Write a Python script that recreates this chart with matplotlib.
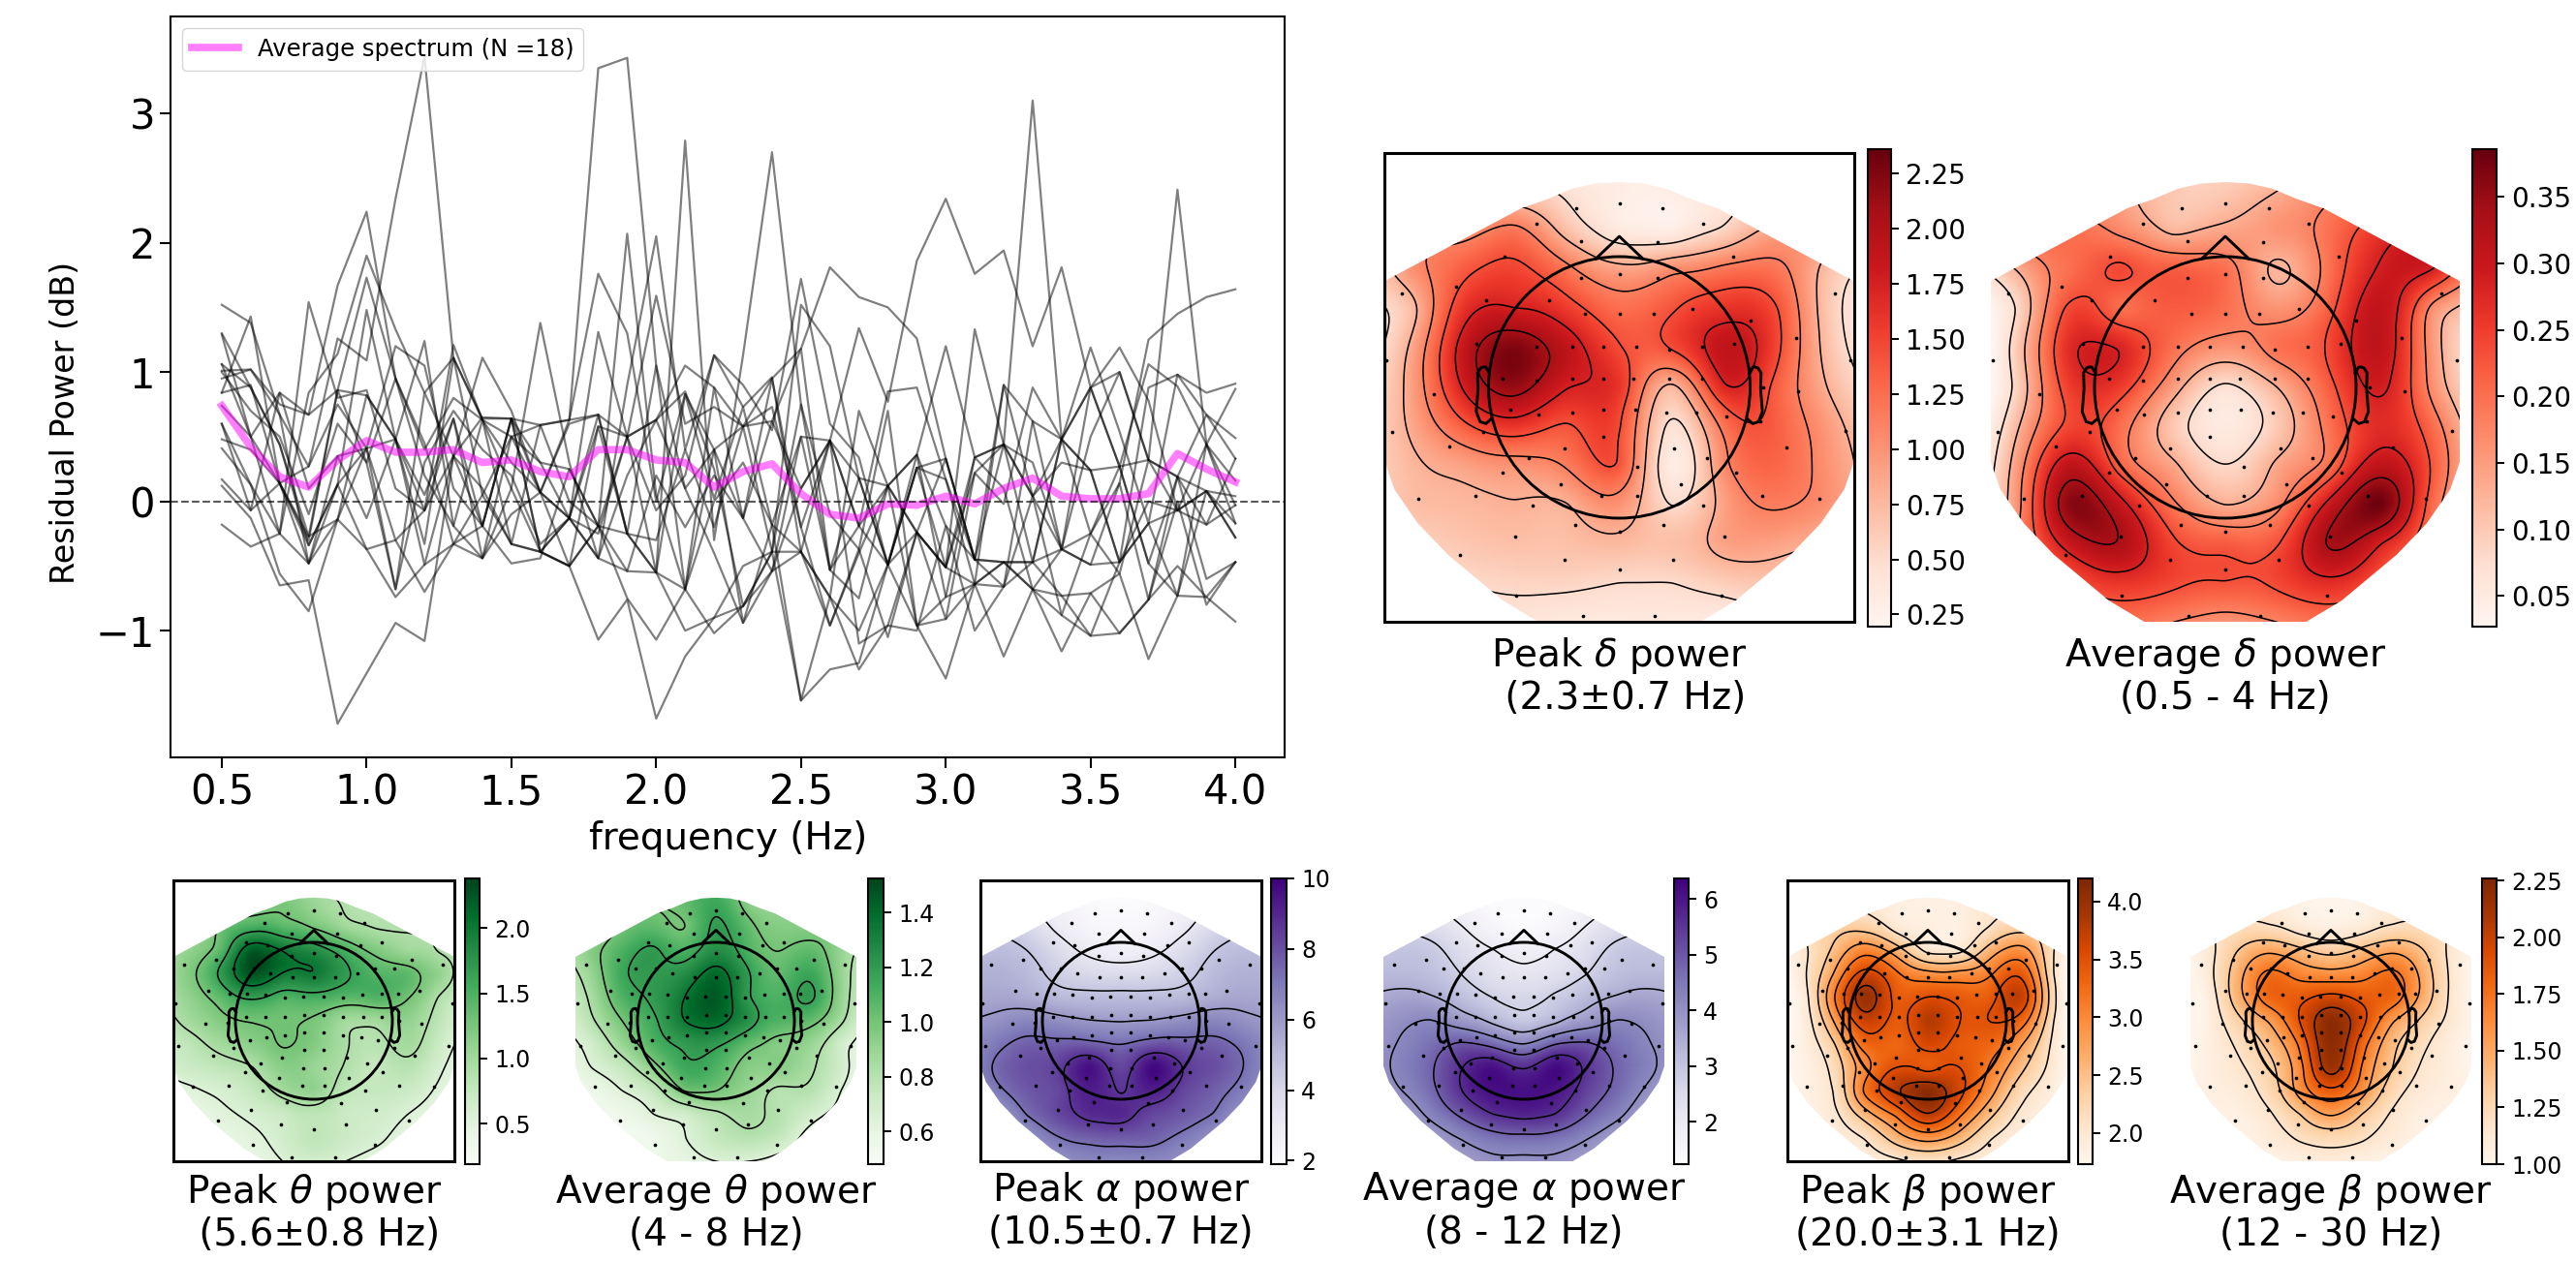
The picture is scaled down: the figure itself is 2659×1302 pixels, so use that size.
import numpy as np
import matplotlib
matplotlib.use("Agg")
import matplotlib.pyplot as plt
from matplotlib.patches import Polygon, Circle

W, H = 2659, 1302

# ---------- spectrum data ----------
freqs = np.round(np.arange(0.5, 4.01, 0.1), 1)

average_spectrum = [0.74, 0.42, 0.19, 0.11, 0.32, 0.47, 0.38, 0.38, 0.40, 0.30, 0.32, 0.23,
                    0.19, 0.40, 0.40, 0.32, 0.30, 0.11, 0.23, 0.29, 0.06, -0.10, -0.13, -0.02,
                    -0.03, 0.04, -0.02, 0.10, 0.18, 0.04, 0.02, 0.02, 0.06, 0.37, 0.25, 0.15]

subjects = [
    [1.52, 1.38, 0.67, 0.27, 1.26, 1.09, 2.34, 3.44, 1.11, 0.63, 0.10, -0.39, -0.13, 0.58, 0.50, -0.55, 0.83, 0.02, 0.73, -0.18, 0.50, -0.53, 0.18, 0.12, -0.24, -0.51, 0.34, 0.44, -0.47, 0.48, 0.24, -0.47, -0.17, -0.07, 0.44, 0.16],
    [1.30, 0.88, 0.44, -0.27, 0.86, 0.82, 0.48, -0.07, 1.21, 0.63, 0.50, 0.07, 0.63, 3.35, 3.43, 1.05, -0.68, 0.88, -0.13, -0.54, -0.39, 0.47, -0.19, -0.49, 0.26, 0.33, -0.45, 0.90, 0.04, -0.37, 0.88, 0.27, -0.48, -0.73, 0.08, -0.28],
    [0.84, 1.43, 0.14, -0.34, 0.13, 0.41, -0.68, 0.84, 0.35, -0.19, 0.64, -0.39, -0.13, 0.67, -0.25, -0.55, 2.79, -0.30, 1.13, 2.70, 0.75, -0.53, -0.75, 0.12, 0.36, -0.19, -0.45, 0.44, 3.10, 0.48, -0.25, 0.27, 0.32, 2.41, 0.44, -0.17],
    [0.12, -0.13, -0.65, -0.61, -1.72, -1.33, -0.94, -1.08, 0.35, 0.10, -0.33, -0.39, -0.50, -1.07, -0.76, -1.68, -1.20, -0.90, -0.50, -0.39, -1.54, -1.30, -1.25, -0.49, -0.96, -1.37, -0.64, -0.47, -0.68, -1.16, -0.71, -0.56, -1.22, -0.73, -0.74, -0.93],
    [-0.18, -0.35, -0.25, -0.48, 0.13, -0.37, -0.74, -0.49, -0.33, -0.44, 0.50, 0.59, 0.63, 0.67, 0.50, 0.63, 1.05, 0.88, 0.58, 0.95, 1.18, 1.81, 1.58, 1.50, 1.26, 0.33, -0.45, -0.47, -0.47, -0.37, -0.25, 0.14, 1.25, 1.45, 1.58, 1.64],
    [1.06, 0.50, 0.14, 0.27, 0.75, 0.41, 0.48, 0.05, 0.64, -0.19, -0.48, -0.44, 0.25, -0.19, 0.50, 1.59, 0.60, 0.73, 0.58, 0.62, 0.10, 0.47, 1.34, 0.77, 1.86, 2.34, 1.76, 1.94, 1.20, 1.81, 0.88, 1.19, 0.78, -0.07, 0.08, 0.04],
    [1.01, 1.02, 0.75, 0.67, 1.67, 2.24, 0.95, 0.45, -0.33, -0.19, 0.64, 0.07, -0.13, 1.31, 0.50, -0.07, 0.20, 1.13, 0.90, 0.55, 1.72, 0.60, 0.34, -0.49, 0.36, -0.74, -0.64, 0.90, 0.62, -0.37, 0.50, 1.00, 0.32, 0.19, -0.60, -0.47],
    [0.74, 0.50, -0.25, 0.84, 1.14, 1.90, 1.33, 0.84, 1.11, 0.05, -0.33, -0.39, -0.50, -0.19, 2.07, 0.05, -0.68, -1.02, -0.81, -0.39, 1.52, 1.20, 0.18, -0.49, -0.24, -0.91, 0.22, -0.02, 0.88, 0.48, 1.19, 0.54, -0.17, 0.98, 0.84, 0.91],
    [0.41, 0.13, -0.25, 1.54, 0.80, 0.86, 0.10, -0.07, 0.64, -0.44, 0.10, 1.38, 0.30, -0.44, 0.90, 2.05, 0.40, 1.13, 0.73, 0.96, -0.39, -0.74, 0.70, 0.12, -0.24, -0.51, 1.33, 0.44, 0.04, 0.30, 0.24, -0.47, 0.88, 0.98, 0.67, 0.49],
    [0.17, -0.07, 0.84, 0.67, 0.86, 1.73, 0.95, 0.20, -0.19, 0.63, -0.33, 0.59, 0.63, 1.76, 1.30, 0.00, 0.83, 0.40, -0.13, 0.62, 1.18, -0.53, -0.19, 0.85, 0.88, 0.17, -0.64, -0.66, 0.62, 0.48, 0.88, 0.27, 1.06, 0.89, 0.44, -0.03],
    [1.06, 0.88, 0.44, -0.34, 0.13, 1.48, 0.48, -0.33, 1.11, 0.64, 0.64, -0.39, -0.50, 0.58, -0.25, 1.05, 0.10, 0.40, -0.94, -0.18, -0.39, -0.96, -0.37, 0.70, -0.96, -0.91, -0.64, -0.47, -0.68, -0.73, -1.04, -1.02, -0.76, 0.19, 0.08, -0.28],
    [0.48, 0.40, 0.14, -0.48, 0.35, 0.41, 1.20, 1.05, 0.10, -0.19, 0.64, 0.59, 0.00, -0.19, -0.54, -0.55, -1.00, -0.90, -0.81, -0.54, 0.50, 0.47, 0.18, -0.49, 0.26, 0.17, -0.45, -0.47, -0.47, 0.48, 0.24, 0.27, -0.48, 0.19, -0.18, 0.33],
    [1.00, 0.70, 0.50, -0.10, 0.60, 0.30, 0.95, 0.40, 0.80, 0.63, 0.30, 0.07, -0.50, -0.19, -0.75, -1.07, -0.68, 0.00, 0.30, -0.18, -1.54, -0.74, -1.30, -0.96, -0.24, -0.51, -0.64, -1.20, -0.68, -0.88, -1.04, -0.47, 0.00, -0.07, 0.08, -0.17],
    [0.60, 0.13, -0.56, -0.85, -0.14, 0.82, 0.48, -0.49, 0.35, 1.11, 0.70, 0.07, 0.60, 0.67, -0.25, -0.30, 0.40, -0.20, 0.58, 0.73, -0.20, -0.96, -0.40, 0.12, -0.96, -0.74, 0.34, 0.10, -0.68, -0.37, -0.49, 0.14, -0.76, 0.00, -0.80, -0.47],
    [0.95, 1.02, 0.67, -0.48, -0.14, 0.41, -0.30, -0.07, 0.35, 0.65, 0.64, 0.30, -0.13, -0.44, 0.20, 0.63, 0.85, 0.25, -0.81, -0.39, 0.75, -0.10, -0.37, -1.05, -0.24, 0.33, -0.45, -0.66, 0.04, -0.88, -0.25, -0.56, 0.32, -0.07, -0.18, -0.03],
    [1.29, 0.50, 0.84, 0.10, 0.35, -0.13, 0.48, 1.24, -0.19, -0.44, -0.10, 0.07, -0.13, -0.25, 0.50, 0.63, 0.10, -0.40, -0.94, -0.54, 0.10, 0.47, -0.19, 0.12, 0.36, 1.20, 0.34, 0.44, 0.30, -0.37, -0.49, -0.47, -0.17, -0.73, 0.44, 0.87],
    [0.60, -0.07, 0.14, -0.30, 0.86, 0.30, -0.68, 0.30, 0.70, 0.40, 0.20, -0.33, -0.13, -0.44, -0.54, 0.20, -0.20, 0.20, -0.13, 0.95, -0.20, 0.47, -1.10, -0.96, -1.00, -0.19, -1.00, -0.66, -0.47, -0.73, -0.71, -1.02, -0.76, -0.50, -0.74, -0.47],
    [0.84, 0.90, 0.14, -0.27, -0.14, -0.37, -0.30, -0.70, -0.33, 0.05, 0.50, 0.30, 0.25, -0.19, -0.25, -0.55, -0.68, 0.40, 0.58, -0.39, -0.39, -0.74, -1.00, -0.49, 0.26, -0.51, 0.22, 0.44, 0.04, 0.48, 0.88, 1.00, 0.32, 0.19, 0.67, 0.33],
]

# ---------- topomap data ----------
# control values; rows run from front (y=1.5) to back (y=-1.8)
grid_x = [-1.6, -1.2, -0.8, -0.4, 0.0, 0.4, 0.8, 1.2, 1.6]
grid_y = [1.5, 1.2, 0.9, 0.6, 0.3, 0.0, -0.3, -0.6, -0.9, -1.2, -1.5, -1.8]

delta_peak = [
    [0.60, 0.60, 0.60, 0.45, 0.30, 0.30, 0.40, 0.50, 0.50],
    [1.00, 1.00, 1.20, 0.70, 0.35, 0.30, 0.55, 0.90, 0.90],
    [1.00, 1.35, 1.50, 1.20, 0.90, 1.05, 1.20, 1.20, 0.70],
    [0.70, 1.60, 1.75, 1.55, 1.25, 1.40, 1.60, 1.45, 0.65],
    [0.85, 1.85, 2.25, 1.90, 1.45, 1.45, 1.90, 1.50, 0.70],
    [0.90, 1.75, 2.15, 1.75, 1.60, 0.75, 1.70, 1.35, 0.80],
    [0.85, 1.35, 1.60, 1.40, 1.45, 0.45, 1.20, 1.35, 0.95],
    [0.75, 0.90, 1.00, 1.15, 1.40, 0.30, 1.05, 1.30, 1.00],
    [0.70, 0.75, 0.80, 0.80, 1.00, 0.50, 0.90, 1.15, 1.00],
    [0.55, 0.65, 0.70, 0.70, 0.75, 0.70, 0.90, 0.90, 0.75],
    [0.40, 0.50, 0.55, 0.55, 0.50, 0.50, 0.60, 0.65, 0.50],
    [0.30, 0.35, 0.40, 0.35, 0.35, 0.35, 0.35, 0.40, 0.35],
]
delta_avg = [
    [0.15, 0.16, 0.14, 0.10, 0.10, 0.13, 0.17, 0.20, 0.20],
    [0.20, 0.20, 0.17, 0.12, 0.14, 0.16, 0.20, 0.26, 0.28],
    [0.13, 0.20, 0.24, 0.22, 0.20, 0.12, 0.20, 0.29, 0.28],
    [0.08, 0.24, 0.20, 0.22, 0.20, 0.16, 0.22, 0.31, 0.16],
    [0.10, 0.27, 0.28, 0.20, 0.16, 0.20, 0.24, 0.31, 0.15],
    [0.09, 0.25, 0.25, 0.15, 0.07, 0.13, 0.22, 0.29, 0.16],
    [0.12, 0.24, 0.20, 0.10, 0.05, 0.10, 0.20, 0.27, 0.20],
    [0.15, 0.31, 0.21, 0.14, 0.08, 0.14, 0.20, 0.31, 0.22],
    [0.16, 0.36, 0.30, 0.19, 0.13, 0.17, 0.30, 0.38, 0.20],
    [0.17, 0.30, 0.33, 0.24, 0.22, 0.23, 0.34, 0.28, 0.18],
    [0.15, 0.22, 0.26, 0.24, 0.23, 0.24, 0.27, 0.22, 0.15],
    [0.12, 0.18, 0.20, 0.18, 0.16, 0.18, 0.20, 0.18, 0.12],
]
theta_peak = [
    [0.90, 1.00, 1.10, 1.25, 1.05, 0.90, 0.80, 0.70, 0.60],
    [1.00, 1.30, 1.50, 1.40, 1.25, 1.00, 0.90, 0.90, 0.90],
    [1.10, 1.40, 2.20, 2.00, 1.80, 1.50, 1.20, 1.00, 0.90],
    [1.20, 1.70, 2.30, 2.00, 2.00, 1.70, 1.45, 1.40, 1.10],
    [1.10, 1.40, 1.70, 1.50, 1.55, 1.45, 1.50, 1.30, 0.90],
    [1.00, 1.20, 1.30, 1.30, 1.25, 1.00, 1.00, 1.10, 0.80],
    [0.80, 1.00, 1.15, 1.30, 1.20, 0.95, 0.85, 1.00, 0.70],
    [0.70, 0.80, 0.90, 1.15, 1.05, 0.90, 0.75, 0.85, 0.60],
    [0.50, 0.60, 0.75, 1.00, 1.10, 0.80, 0.75, 0.70, 0.50],
    [0.40, 0.50, 0.60, 0.70, 0.80, 0.70, 0.65, 0.55, 0.40],
    [0.30, 0.40, 0.50, 0.65, 0.80, 0.70, 0.60, 0.45, 0.30],
    [0.30, 0.35, 0.40, 0.55, 0.65, 0.55, 0.45, 0.35, 0.30],
]
theta_avg = [
    [0.95, 1.00, 1.00, 1.05, 1.15, 0.95, 0.90, 0.95, 0.90],
    [0.90, 1.00, 1.05, 1.00, 1.20, 1.05, 0.95, 0.95, 0.95],
    [0.95, 1.10, 1.20, 1.10, 1.25, 1.10, 1.00, 1.05, 0.90],
    [0.90, 1.15, 1.20, 1.25, 1.40, 1.20, 1.05, 1.15, 0.90],
    [0.85, 1.10, 1.20, 1.35, 1.45, 1.20, 1.10, 1.20, 0.90],
    [0.80, 1.00, 1.15, 1.35, 1.40, 1.25, 1.10, 1.05, 0.85],
    [0.70, 0.90, 1.10, 1.20, 1.20, 1.05, 0.95, 0.90, 0.70],
    [0.65, 0.75, 0.95, 1.15, 1.10, 0.95, 0.95, 0.85, 0.70],
    [0.55, 0.65, 0.75, 1.00, 1.00, 0.90, 0.80, 0.80, 0.65],
    [0.50, 0.55, 0.65, 0.70, 0.80, 0.85, 0.80, 0.70, 0.60],
    [0.48, 0.50, 0.55, 0.65, 0.75, 0.80, 0.75, 0.60, 0.50],
    [0.48, 0.50, 0.55, 0.60, 0.65, 0.65, 0.60, 0.55, 0.50],
]
alpha_peak = [
    [3.2, 3.2, 2.6, 2.1, 2.0, 2.1, 2.6, 3.2, 3.2],
    [4.4, 3.9, 3.0, 2.3, 2.2, 2.3, 3.0, 3.9, 4.4],
    [4.9, 4.6, 3.8, 3.0, 2.7, 3.0, 3.8, 4.6, 4.9],
    [5.3, 5.0, 4.3, 3.9, 3.8, 3.9, 4.3, 5.0, 5.3],
    [5.6, 5.4, 5.0, 4.9, 4.9, 4.9, 5.0, 5.4, 5.6],
    [6.2, 6.6, 6.3, 6.0, 5.9, 6.0, 6.3, 6.6, 6.2],
    [7.0, 7.6, 7.6, 7.6, 7.3, 7.8, 7.7, 7.6, 7.0],
    [7.4, 8.0, 8.4, 9.6, 8.2, 9.8, 8.6, 8.0, 7.2],
    [7.0, 7.8, 8.2, 9.2, 8.6, 9.2, 8.2, 7.6, 6.8],
    [6.0, 7.3, 8.2, 8.9, 9.0, 8.2, 7.8, 7.2, 6.0],
    [5.4, 6.2, 7.2, 7.6, 7.7, 7.6, 7.0, 6.2, 5.4],
    [5.0, 5.5, 6.2, 6.6, 6.6, 6.6, 6.2, 5.5, 5.0],
]
alpha_avg = [
    [2.0, 2.0, 1.6, 1.3, 1.2, 1.3, 1.6, 2.0, 2.0],
    [2.6, 2.4, 2.0, 1.5, 1.3, 1.5, 2.0, 2.4, 2.6],
    [3.0, 2.9, 2.4, 2.0, 1.8, 2.0, 2.4, 2.9, 3.0],
    [3.2, 3.1, 2.7, 2.3, 2.1, 2.3, 2.7, 3.1, 3.2],
    [3.6, 3.5, 3.1, 2.7, 2.6, 2.8, 3.2, 3.5, 3.6],
    [4.0, 4.2, 3.8, 3.3, 2.9, 3.3, 3.8, 4.2, 4.0],
    [4.2, 4.6, 5.0, 4.7, 4.2, 4.9, 5.0, 4.6, 4.2],
    [4.3, 4.8, 5.6, 6.1, 5.6, 6.2, 5.5, 4.8, 4.3],
    [4.1, 4.7, 5.6, 6.1, 6.1, 6.0, 5.3, 4.7, 4.0],
    [3.6, 4.3, 5.0, 5.6, 5.8, 5.6, 4.9, 4.3, 3.6],
    [3.3, 3.7, 4.2, 4.6, 4.7, 4.6, 4.2, 3.7, 3.3],
    [3.0, 3.4, 3.7, 4.0, 4.0, 4.0, 3.7, 3.4, 3.0],
]
beta_peak = [
    [2.00, 2.00, 2.00, 1.85, 1.80, 1.85, 2.00, 2.00, 2.00],
    [2.10, 2.30, 2.30, 1.95, 1.85, 1.85, 2.10, 2.30, 2.20],
    [2.00, 2.50, 3.00, 2.60, 2.00, 2.00, 2.60, 2.90, 2.10],
    [2.00, 2.80, 3.60, 3.20, 2.90, 2.90, 3.10, 3.40, 2.10],
    [1.90, 3.10, 4.00, 3.40, 3.50, 3.40, 3.40, 3.70, 2.20],
    [1.85, 2.80, 3.70, 3.40, 3.80, 3.50, 3.50, 3.30, 2.10],
    [1.85, 2.40, 3.30, 3.30, 3.60, 3.40, 3.30, 2.80, 2.00],
    [1.80, 2.20, 3.00, 3.50, 3.40, 3.50, 3.10, 2.50, 1.95],
    [1.80, 2.10, 3.20, 3.80, 4.10, 3.60, 2.90, 2.20, 1.85],
    [1.80, 2.00, 2.60, 3.20, 3.80, 3.20, 2.50, 2.00, 1.80],
    [1.75, 1.90, 2.10, 2.60, 2.90, 2.60, 2.10, 1.90, 1.75],
    [1.75, 1.80, 1.90, 2.00, 2.10, 2.00, 1.90, 1.80, 1.75],
]
beta_avg = [
    [1.05, 1.10, 1.10, 1.03, 1.00, 1.03, 1.10, 1.10, 1.05],
    [1.15, 1.20, 1.20, 1.10, 1.05, 1.10, 1.20, 1.20, 1.15],
    [1.10, 1.35, 1.50, 1.40, 1.30, 1.40, 1.50, 1.35, 1.10],
    [1.10, 1.45, 1.75, 1.65, 1.60, 1.65, 1.75, 1.45, 1.10],
    [1.05, 1.45, 1.80, 1.85, 1.95, 1.85, 1.80, 1.45, 1.10],
    [1.05, 1.30, 1.55, 1.90, 2.20, 1.95, 1.55, 1.30, 1.10],
    [1.05, 1.20, 1.40, 1.75, 2.20, 1.80, 1.40, 1.20, 1.05],
    [1.05, 1.15, 1.30, 1.65, 2.15, 1.70, 1.35, 1.15, 1.05],
    [1.05, 1.10, 1.25, 1.60, 1.85, 1.60, 1.25, 1.10, 1.05],
    [1.02, 1.05, 1.15, 1.35, 1.55, 1.35, 1.15, 1.05, 1.02],
    [1.00, 1.02, 1.10, 1.20, 1.25, 1.20, 1.10, 1.02, 1.00],
    [1.00, 1.00, 1.02, 1.05, 1.10, 1.05, 1.02, 1.00, 1.00],
]

# sensor positions in head radii
sparse_x = [0.00, -0.33, 0.33, -0.63, 0.64, -0.29, 0.29, -0.88, 0.87, 0.00, -0.29, 0.29, -1.25, -1.66, 1.65,
            -1.02, -0.54, 0.56, 0.00, -0.26, 0.26, 1.00, 1.35, -1.09, -0.63, -0.36, -0.12, 0.13, 0.38, 0.63,
            0.88, -1.78, 1.77, -1.42, -0.89, -0.63, -0.36, -0.12, 0.11, 0.38, 0.63, 1.10, 1.37, -0.83, -0.62,
            -0.36, -0.12, 0.12, 0.36, 0.59, 0.82, 1.08, -1.74, 1.73, -1.30, -1.04, -0.42, -0.12, 0.42, 0.67,
            1.28, -0.69, 0.14, -0.89, 0.89, -1.54, -1.10, -0.45, -0.14, 0.14, 0.47, 1.09, 1.53, -0.66, 0.64,
            0.00, -0.34, 0.34, -0.80, 0.80, -1.22, -0.42, 0.41, 0.00, -0.79, 0.78, -0.28, 0.27]
sparse_y = [1.41, 1.37, 1.37, 1.25, 1.25, 1.12, 1.11, 1.00, 1.00, 0.87, 0.84, 0.84, 0.77, 0.72, 0.72,
            0.67, 0.67, 0.60, 0.56, 0.56, 0.56, 0.51, 0.38, 0.33, 0.31, 0.31, 0.31, 0.31, 0.29, 0.31,
            0.33, 0.21, 0.21, -0.05, 0.07, 0.05, 0.07, 0.07, 0.07, 0.07, 0.07, 0.00, -0.03, -0.17, -0.21,
            -0.19, -0.17, -0.17, -0.19, -0.19, -0.22, -0.26, -0.34, -0.33, -0.45, -0.34, -0.47, -0.38, -0.47, -0.54,
            -0.46, -0.54, -0.61, -0.65, -0.65, -0.85, -0.83, -0.74, -0.83, -0.83, -0.74, -0.83, -0.85, -0.90, -0.90,
            -1.10, -1.05, -1.05, -1.14, -1.14, -1.28, -1.32, -1.32, -1.39, -1.59, -1.59, -1.75, -1.75]

dense_x = [0.00, -0.33, 0.33, -0.63, 0.64, -0.29, 0.30, -0.87, 0.87, -0.59, 0.59, -0.28, 0.00, 0.28, -1.65, -1.25,
           -1.02, -0.77, 0.78, 1.02, 1.25, 1.64, -0.55, -0.27, 0.00, 0.27, 0.55, -1.35, -1.08, -0.85, -0.62, -0.37,
           -0.13, 0.12, 0.37, 0.62, 0.86, 1.08, 1.34, -1.77, 1.77, -1.38, -1.10, -0.87, -0.62, -0.37, -0.12, 0.12,
           0.37, 0.63, 0.86, 1.09, 1.37, -1.73, -1.03, -0.82, -0.60, -0.37, -0.12, 0.12, 0.37, 0.60, 0.82, 1.03,
           1.72, -1.29, -0.68, -0.41, -0.12, 0.12, 0.42, 0.68, 1.28, -0.88, -0.44, -0.14, 0.14, 0.44, 0.88, -1.54,
           -1.09, -0.65, -0.15, 0.14, 0.65, 1.09, 1.53, -0.80, -0.34, 0.34, 0.79, -1.22, -0.42, 0.00, 0.41, 1.21,
           -0.78, 0.78, -0.28, 0.27]
dense_y = [1.41, 1.37, 1.37, 1.25, 1.25, 1.11, 1.11, 1.00, 1.00, 0.96, 0.96, 0.83, 0.86, 0.83, 0.72, 0.78,
           0.67, 0.67, 0.67, 0.67, 0.78, 0.72, 0.60, 0.56, 0.56, 0.56, 0.60, 0.38, 0.34, 0.35, 0.33, 0.30,
           0.31, 0.31, 0.30, 0.33, 0.35, 0.34, 0.38, 0.22, 0.22, -0.04, -0.02, 0.05, 0.05, 0.05, 0.07, 0.07,
           0.05, 0.05, 0.05, 0.00, -0.04, -0.32, -0.34, -0.25, -0.21, -0.19, -0.15, -0.15, -0.19, -0.21, -0.25, -0.34,
           -0.32, -0.45, -0.54, -0.47, -0.37, -0.37, -0.47, -0.54, -0.45, -0.65, -0.73, -0.61, -0.61, -0.73, -0.65, -0.84,
           -0.83, -0.89, -0.83, -0.83, -0.89, -0.83, -0.84, -1.13, -1.04, -1.05, -1.13, -1.27, -1.32, -1.38, -1.32, -1.27,
           -1.58, -1.58, -1.74, -1.74]

# head-shaped mask of the interpolated field, right half
mask_x = [0.00, 0.18, 0.36, 0.55, 0.75, 1.80, 1.80, 1.72, 1.54, 1.31, 0.89, 0.54, 0.30]
mask_y = [1.57, 1.56, 1.52, 1.44, 1.37, 0.81, -0.55, -0.78, -1.04, -1.28, -1.63, -1.84, -1.86]

panels = [
    dict(name="delta_peak", vals=delta_peak, cmap="Reds", vmin=0.195, vmax=2.36, ticks=[0.25, 0.5, 0.75, 1.0, 1.25, 1.5, 1.75, 2.0, 2.25], fmt="%.2f", box=True, n=6,
         cx=1671.5, cy=400, r=135, cbar=(1928, 1952, 154, 647), label="Peak $\\delta$ power\n (2.3\u00b10.7 Hz)", ly=698, sensors="sparse"),
    dict(name="delta_avg", vals=delta_avg, cmap="Reds", vmin=0.027, vmax=0.386, ticks=[0.05, 0.1, 0.15, 0.2, 0.25, 0.3, 0.35], fmt="%.2f", box=False, n=6,
         cx=2297, cy=400, r=135, cbar=(2552, 2577, 154, 647), label="Average $\\delta$ power\n(0.5 - 4 Hz)", ly=698, sensors="sparse"),
    dict(name="theta_peak", vals=theta_peak, cmap="Greens", vmin=0.19, vmax=2.38, ticks=[0.5, 1.0, 1.5, 2.0], fmt="%.1f", box=True, n=5,
         cx=324, cy=1054, r=81, cbar=(480, 495, 907, 1202), label="Peak $\\theta$ power\n (5.6\u00b10.8 Hz)", ly=1252, sensors="dense"),
    dict(name="theta_avg", vals=theta_avg, cmap="Greens", vmin=0.48, vmax=1.525, ticks=[0.6, 0.8, 1.0, 1.2, 1.4], fmt="%.1f", box=False, n=5,
         cx=739, cy=1054, r=81, cbar=(896, 912, 907, 1202), label="Average $\\theta$ power\n(4 - 8 Hz)", ly=1252, sensors="dense"),
    dict(name="alpha_peak", vals=alpha_peak, cmap="Purples", vmin=1.9, vmax=10, ticks=[2, 4, 6, 8, 10], fmt="%d", box=True, n=5,
         cx=1157, cy=1054, r=81, cbar=(1312, 1328, 907, 1202), label="Peak $\\alpha$ power\n(10.5\u00b10.7 Hz)", ly=1250, sensors="dense"),
    dict(name="alpha_avg", vals=alpha_avg, cmap="Purples", vmin=1.24, vmax=6.37, ticks=[2, 3, 4, 5, 6], fmt="%d", box=False, n=6,
         cx=1573, cy=1054, r=81, cbar=(1728, 1743, 907, 1202), label="Average $\\alpha$ power\n(8 - 12 Hz)", ly=1250, sensors="dense"),
    dict(name="beta_peak", vals=beta_peak, cmap="Oranges", vmin=1.73, vmax=4.2, ticks=[2.0, 2.5, 3.0, 3.5, 4.0], fmt="%.1f", box=True, n=6,
         cx=1990, cy=1054, r=81, cbar=(2145, 2160, 907, 1202), label="Peak $\\beta$ power\n(20.0\u00b13.1 Hz)", ly=1252, sensors="dense"),
    dict(name="beta_avg", vals=beta_avg, cmap="Oranges", vmin=1.0, vmax=2.26, ticks=[1.0, 1.25, 1.5, 1.75, 2.0, 2.25], fmt="%.2f", box=False, n=6,
         cx=2406, cy=1054, r=81, cbar=(2562, 2577, 907, 1202), label="Average $\\beta$ power\n(12 - 30 Hz)", ly=1252, sensors="dense"),
]


def add_axes_px(fig, x0, x1, y0, y1):
    return fig.add_axes([x0 / W, 1 - y1 / H, (x1 - x0) / W, (y1 - y0) / H])


def fit_surface(vals, xx, yy):
    # thin plate spline through the control values, numpy only
    gx, gy = np.meshgrid(grid_x, grid_y)
    px, py, pv = gx.ravel(), gy.ravel(), np.array(vals, dtype=float).ravel()

    def kernel(r2):
        return 0.5 * r2 * np.log(np.where(r2 > 0, r2, 1.0))

    d2 = (px[:, None] - px[None, :]) ** 2 + (py[:, None] - py[None, :]) ** 2
    P = np.column_stack([np.ones_like(px), px, py])
    n = len(px)
    A = np.zeros((n + 3, n + 3))
    A[:n, :n] = kernel(d2) + 0.002 * np.eye(n)
    A[:n, n:] = P
    A[n:, :n] = P.T
    sol = np.linalg.solve(A, np.concatenate([pv, np.zeros(3)]))
    qx, qy = xx.ravel(), yy.ravel()
    q2 = (qx[:, None] - px[None, :]) ** 2 + (qy[:, None] - py[None, :]) ** 2
    out = kernel(q2) @ sol[:n] + sol[n] + sol[n + 1] * qx + sol[n + 2] * qy
    return out.reshape(xx.shape)


def draw_topomap(fig, p):
    half = 1.796 * p["r"]
    ax = add_axes_px(fig, p["cx"] - half, p["cx"] + half, p["cy"] - half, p["cy"] + half)
    ax.set_xlim(-1.796, 1.796)
    ax.set_ylim(-1.796, 1.796)
    ax.set_xticks([])
    ax.set_yticks([])
    for s in ax.spines.values():
        s.set_visible(p["box"])
        s.set_linewidth(2.2)
        s.set_zorder(6)

    xs = np.linspace(-1.85, 1.85, 220)
    ys = np.linspace(-1.9, 1.6, 220)
    xx, yy = np.meshgrid(xs, ys)
    zz = fit_surface(p["vals"], xx, yy)

    outline = np.column_stack([mask_x + [-v for v in mask_x[::-1]], mask_y + mask_y[::-1]])
    clip = Polygon(outline, closed=True, transform=ax.transData, fc="none", ec="none")
    ax.add_patch(clip)

    im = ax.imshow(zz, origin="lower", extent=(xs[0], xs[-1], ys[0], ys[-1]), cmap=p["cmap"],
                   vmin=p["vmin"], vmax=p["vmax"], interpolation="bilinear", aspect="auto", zorder=1)
    im.set_clip_path(clip)
    levels = np.linspace(p["vmin"], p["vmax"], p["n"] + 2)[1:-1]
    cs = ax.contour(xx, yy, zz, levels=levels, colors="k", linewidths=1.1, zorder=2)
    cs.set_clip_path(clip)

    # sensors
    if p["sensors"] == "sparse":
        ax.scatter(sparse_x, sparse_y, s=7, c="k", lw=0, zorder=3)
    else:
        ax.scatter(dense_x, dense_y, s=7, c="k", lw=0, zorder=3)

    # head outline
    ax.add_patch(Circle((0, 0), 1.0, fc="none", ec="k", lw=2.1, zorder=4))
    ax.plot([-0.18, 0, 0.18], [0.984, 1.155, 0.984], color="k", lw=2.1, zorder=4)
    ear_x = np.array([0.497, 0.510, 0.518, 0.5299, 0.5419, 0.54, 0.547, 0.532, 0.510, 0.489]) * 2
    ear_y = np.array([0.0555, 0.0775, 0.0783, 0.0746, 0.0555, -0.0055, -0.0932, -0.1313, -0.1384, -0.1199]) * 2
    ax.plot(ear_x, ear_y, color="k", lw=2.1, zorder=4)
    ax.plot(-ear_x, ear_y, color="k", lw=2.1, zorder=4)

    # colorbar
    x0, x1, y0, y1 = p["cbar"]
    cax = add_axes_px(fig, x0, x1, y0, y1)
    cb = fig.colorbar(im, cax=cax, ticks=p["ticks"], format=p["fmt"])
    size = 20 if p["r"] > 100 else 17
    cb.ax.tick_params(labelsize=size, length=6, width=1.4, pad=5)
    cb.outline.set_linewidth(1.5)

    fig.text(p["cx"] / W, 1 - p["ly"] / H, p["label"], ha="center", va="center", fontsize=28,
             linespacing=1.14, multialignment="center")


fig = plt.figure(figsize=(W / 100, H / 100), dpi=100)

ax = add_axes_px(fig, 176, 1326, 17, 782)
for row in subjects:
    ax.plot(freqs, row, color="k", alpha=0.5, lw=1.6)
ax.plot(freqs, average_spectrum, color="magenta", alpha=0.5, lw=5.5, label="Average spectrum (N =18)")
ax.axhline(0, color="k", alpha=0.65, ls="--", lw=1.5)
ax.set_xlim(0.323, 4.17)
ax.set_ylim(-1.98, 3.75)
ax.set_xticks([0.5, 1.0, 1.5, 2.0, 2.5, 3.0, 3.5, 4.0])
ax.set_yticks([-1, 0, 1, 2, 3])
ax.tick_params(labelsize=30, length=8, width=1.5)
for s in ax.spines.values():
    s.set_linewidth(1.5)
ax.legend(loc="upper left", fontsize=17.5)
fig.text(752 / W, 1 - 866 / H, "frequency (Hz)", ha="center", va="center", fontsize=28)
fig.text(68 / W, 1 - 436 / H, "Residual Power (dB)", ha="center", va="center", rotation=90, fontsize=24)

for p in panels:
    draw_topomap(fig, p)

fig.savefig("out.png", dpi=100)
